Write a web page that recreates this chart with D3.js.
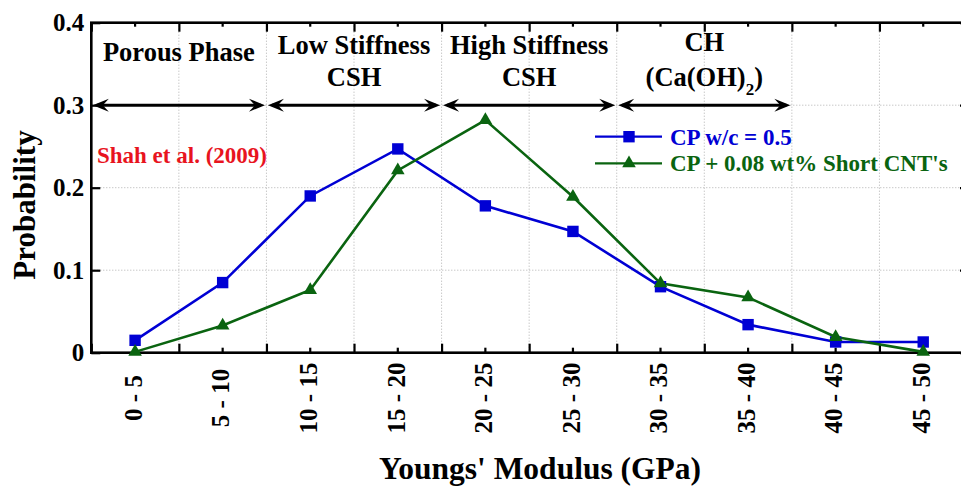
<!DOCTYPE html>
<html><head><meta charset="utf-8">
<script src="https://cdn.jsdelivr.net/npm/d3@7"></script>
<style>
html,body{margin:0;padding:0;background:#fff;}
svg{display:block;font-family:"Liberation Serif","Times New Roman",serif;font-weight:bold;}
</style></head>
<body>
<svg id="chart" width="961" height="487"></svg>
<script>
// ---- data ----
const categories = ["0 - 5","5 - 10","10 - 15","15 - 20","20 - 25","25 - 30","30 - 35","35 - 40","40 - 45","45 - 50"];
const cpValues  = [0.015, 0.085, 0.190, 0.247, 0.178, 0.147, 0.080, 0.034, 0.013, 0.013];
const cntValues = [0.001, 0.033, 0.076, 0.221, 0.282, 0.189, 0.084, 0.067, 0.019, 0.001];
const seriesNames = ["CP w/c = 0.5", "CP + 0.08 wt% Short CNT's"];
const yTicks = [0, 0.1, 0.2, 0.3, 0.4];
const yTickLabels = ["0", "0.1", "0.2", "0.3", "0.4"];
const phaseNames = [["Porous Phase"], ["Low Stiffness","CSH"], ["High Stiffness","CSH"], ["CH","(Ca(OH)|2|)"]];
const phaseStart = [0, 10, 20, 30];   // GPa
const phaseEnd   = [10, 20, 30, 40];  // GPa
const phaseLevel = 0.3;
const sourceNote = "Shah et al. (2009)";
const xTitle = "Youngs' Modulus (GPa)";
const yTitle = "Probability";

// ---- layout ----
const L = 91.3, R = 967, T = 22.7, B = 352.7;
const svg = d3.select("#chart");
const x = d3.scaleBand().domain(categories).range([L, R]).padding(0);
const xg = d3.scaleLinear().domain([0, 50]).range([L, R]);
const y = d3.scaleLinear().domain([0, 0.4]).range([B, T]);
const blue = "#0000d4", green = "#0a6410", red = "#e8141e";
const cx = c => x(c) + x.bandwidth() / 2;

// grid
const bounds = d3.range(1, 10).map(i => xg(i * 5));
svg.append("g").selectAll("line").data(bounds).join("line")
  .attr("x1", d => d).attr("x2", d => d).attr("y1", T).attr("y2", B)
  .attr("stroke", "#b0b0b0").attr("stroke-width", 1).attr("stroke-dasharray", "1,2");
svg.append("g").selectAll("line").data([0.1, 0.2, 0.3]).join("line")
  .attr("x1", L).attr("x2", R).attr("y1", d => y(d)).attr("y2", d => y(d))
  .attr("stroke", "#b0b0b0").attr("stroke-width", 1).attr("stroke-dasharray", "1,2");

// axes (ticks inward)
const axB = d3.axisTop(xg).tickValues(d3.range(0, 51, 5)).tickSize(9).tickFormat("");
const axBm = d3.axisTop(x).tickSize(5).tickFormat("");
const axT = d3.axisBottom(xg).tickValues(d3.range(0, 51, 5)).tickSize(9).tickFormat("");
const axTm = d3.axisBottom(x).tickSize(4).tickFormat("");
const axL = d3.axisRight(y).tickValues(yTicks).tickSize(9).tickFormat("");
const axR = d3.axisLeft(y).tickValues(yTicks).tickSize(7).tickFormat("");
function styleAxis(g){ g.selectAll("path.domain").remove(); g.selectAll("line").attr("stroke","#000").attr("stroke-width",2.2); }
svg.append("g").attr("transform",`translate(0,${B})`).call(axB).call(styleAxis);
svg.append("g").attr("transform",`translate(0,${B})`).call(axBm).call(styleAxis);
svg.append("g").attr("transform",`translate(0,${T})`).call(axT).call(styleAxis);
svg.append("g").attr("transform",`translate(0,${T})`).call(axTm).call(styleAxis);
svg.append("g").attr("transform",`translate(${L},0)`).call(axL).call(styleAxis);
svg.append("g").attr("transform",`translate(${R},0)`).call(axR).call(styleAxis);
svg.append("rect").attr("x", L).attr("y", T).attr("width", R - L).attr("height", B - T)
  .attr("fill", "none").attr("stroke", "#000").attr("stroke-width", 2.6);

// y tick labels
svg.append("g").selectAll("text").data(yTicks).join("text")
  .attr("x", L - 7).attr("y", d => y(d)).attr("dy", "0.35em")
  .attr("text-anchor", "end").attr("font-size", 25).text((d, i) => yTickLabels[i]);

// x tick labels (rotated)
svg.append("g").selectAll("text").data(categories).join("text")
  .attr("transform", d => `translate(${cx(d) - 2},398) rotate(-90)`)
  .attr("text-anchor", "middle").attr("dy", "0.35em").attr("font-size", 25).text(d => d);

// axis titles
svg.append("text").attr("x", 540).attr("y", 479)
  .attr("text-anchor", "middle").attr("font-size", 31.5).text(xTitle);
svg.append("text").attr("transform", `translate(35,205) rotate(-90)`)
  .attr("text-anchor", "middle").attr("font-size", 31).text(yTitle);

// phase arrows
function arrowHead(px, py, dir){
  const p = d3.path();
  p.moveTo(px, py);
  p.lineTo(px - dir * 16, py - 6.5);
  p.lineTo(px - dir * 10, py);
  p.lineTo(px - dir * 16, py + 6.5);
  p.closePath();
  return p.toString();
}
const ay = y(phaseLevel);
phaseStart.forEach((s, i) => {
  const x0 = xg(s) + 1.5, x1 = xg(phaseEnd[i]) - 1.5;
  svg.append("line").attr("x1", x0 + 4).attr("x2", x1 - 4).attr("y1", ay).attr("y2", ay)
    .attr("stroke", "#000").attr("stroke-width", 3);
  svg.append("path").attr("d", arrowHead(x1, ay, 1)).attr("fill", "#000");
  svg.append("path").attr("d", arrowHead(x0, ay, -1)).attr("fill", "#000");
});

// phase labels
const phaseBaselines = [[61], [54, 86], [54, 86], [51, 86]];
phaseNames.forEach((lines, i) => {
  const mx = (xg(phaseStart[i]) + xg(phaseEnd[i])) / 2;
  lines.forEach((ln, j) => {
    const t = svg.append("text").attr("x", mx).attr("y", phaseBaselines[i][j])
      .attr("text-anchor", "middle").attr("font-size", 26.5);
    const parts = ln.split("|");
    parts.forEach((p, k) => {
      const ts = t.append("tspan").text(p);
      if (k === 1) ts.attr("font-size", 17).attr("dy", 9);
      if (k === 2) ts.attr("dy", -9);
    });
  });
});

// source note
svg.append("text").attr("x", 97).attr("y", 163).attr("font-size", 23).attr("fill", red).text(sourceNote);

// series lines
const line = d3.line().x((d, i) => cx(categories[i])).y(d => y(d));
svg.append("path").datum(cpValues).attr("d", line).attr("fill", "none").attr("stroke", blue).attr("stroke-width", 2.6);
svg.append("path").datum(cntValues).attr("d", line).attr("fill", "none").attr("stroke", green).attr("stroke-width", 2.6);

const sq = d3.symbol().type(d3.symbolSquare).size(130);
const tri = d3.symbol().type(d3.symbolTriangle).size(80);
svg.append("g").selectAll("path").data(cpValues).join("path")
  .attr("d", sq).attr("fill", blue)
  .attr("transform", (d, i) => `translate(${cx(categories[i])},${y(d)})`);
svg.append("g").selectAll("path").data(cntValues).join("path")
  .attr("d", tri).attr("fill", green)
  .attr("transform", (d, i) => `translate(${cx(categories[i])},${y(d)})`);

// legend
const legRows = [136.7, 163.3];
const legColors = [blue, green];
const legSyms = [sq, tri];
seriesNames.forEach((n, i) => {
  const g = svg.append("g");
  g.append("line").attr("x1", 595).attr("x2", 662).attr("y1", legRows[i]).attr("y2", legRows[i])
    .attr("stroke", legColors[i]).attr("stroke-width", 2.2);
  g.append("path").attr("d", legSyms[i]).attr("fill", legColors[i])
    .attr("transform", `translate(629,${legRows[i]})`);
  g.append("text").attr("x", 670).attr("y", legRows[i]).attr("dy", "0.34em")
    .attr("font-size", 23).attr("fill", legColors[i]).text(n);
});
</script>
</body></html>
